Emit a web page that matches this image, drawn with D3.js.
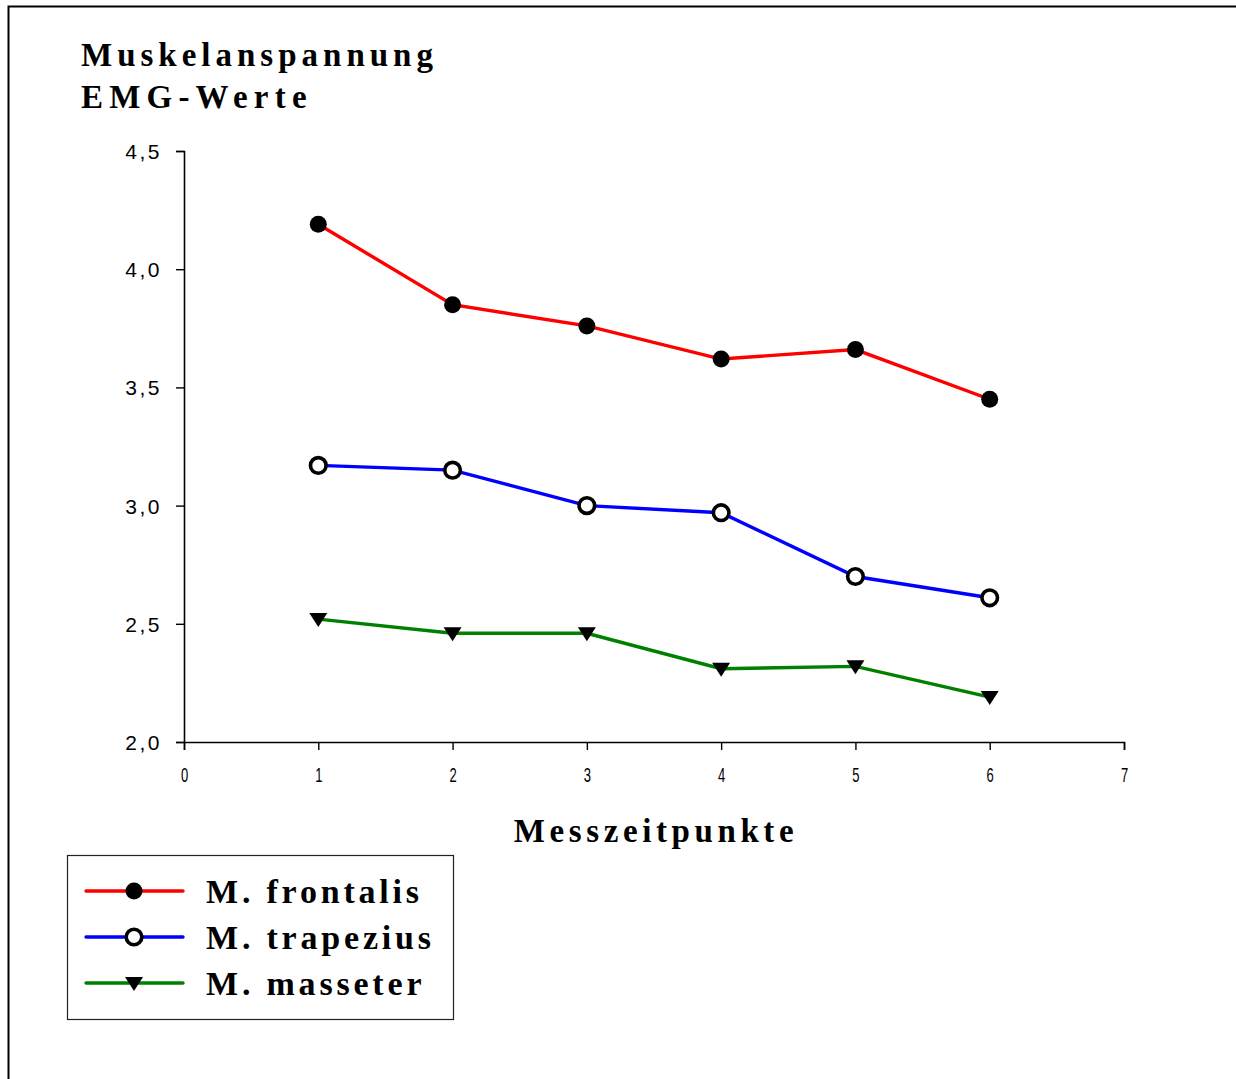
<!DOCTYPE html>
<html>
<head>
<meta charset="utf-8">
<script src="https://cdn.jsdelivr.net/npm/d3@7"></script>
<style>
  html, body { margin: 0; padding: 0; background: #fff; }
  svg { display: block; }
</style>
</head>
<body>
<svg id="chart" width="1236" height="1079"></svg>
<script>
// Measurement time points (x) and mean EMG values per muscle
const timePoints = [1, 2, 3, 4, 5, 6];
const frontalis = [4.19, 3.85, 3.76, 3.62, 3.66, 3.45];
const trapezius = [3.17, 3.15, 3.00, 2.97, 2.70, 2.61];
const masseter  = [2.52, 2.46, 2.46, 2.31, 2.32, 2.19];

const xTicks = [0, 1, 2, 3, 4, 5, 6, 7];
const yTicks = [2.0, 2.5, 3.0, 3.5, 4.0, 4.5];
const seriesNames = ["M. frontalis", "M. trapezius", "M. masseter"];

const series = [
  { name: seriesNames[0], values: frontalis, color: "#ff0000", marker: "filled" },
  { name: seriesNames[1], values: trapezius, color: "#0000ff", marker: "open" },
  { name: seriesNames[2], values: masseter,  color: "#008000", marker: "triangle" }
];

const svg = d3.select("#chart");
const serif = "'Liberation Serif', 'Times New Roman', serif";
const sans = "'Liberation Sans', Arial, sans-serif";

// outer frame (only top and left edges fall inside the page)
svg.append("path")
  .attr("d", "M8.5,1079 V6.5 H1236")
  .attr("fill", "none").attr("stroke", "#000").attr("stroke-width", 2);

const x = d3.scaleLinear().domain([0, 7]).range([184, 1124]);
const y = d3.scaleLinear().domain([2.0, 4.5]).range([742, 151]);

// y axis
const yAxis = svg.append("g")
  .attr("transform", `translate(${x(0)},0)`)
  .call(d3.axisLeft(y).tickValues(yTicks).tickSize(8).tickPadding(14)
    .tickFormat(d => d3.format(".1f")(d).replace(".", ",")));
yAxis.select(".domain").attr("stroke-width", 1.6);
yAxis.selectAll(".tick line").attr("stroke-width", 1.4);
yAxis.selectAll("text")
  .attr("font-family", sans).attr("font-size", 21).attr("letter-spacing", 2.5)
  .attr("x", -22).attr("dy", "0.36em").attr("fill", "#000");

// x axis
const xAxis = svg.append("g")
  .attr("transform", `translate(0,${y(2.0)})`)
  .call(d3.axisBottom(x).tickValues(xTicks).tickSize(8).tickPadding(0)
    .tickFormat(d3.format("d")));
xAxis.select(".domain").attr("stroke-width", 1.6);
xAxis.selectAll(".tick line").attr("stroke-width", 1.4);
xAxis.selectAll("text")
  .attr("font-family", sans).attr("font-size", 20).attr("fill", "#000")
  .attr("dy", null).attr("y", 0)
  .attr("transform", "translate(0,40) scale(0.65,1)");

// lines and markers
const line = d3.line().x((d, i) => x(timePoints[i])).y(d => y(d));

function drawMarker(g, type, cx, cy) {
  if (type === "filled") {
    g.append("circle").attr("cx", cx).attr("cy", cy).attr("r", 8.5).attr("fill", "#000");
  } else if (type === "open") {
    g.append("circle").attr("cx", cx).attr("cy", cy).attr("r", 7.8)
      .attr("fill", "#fff").attr("stroke", "#000").attr("stroke-width", 3.6);
  } else {
    const s = 9;
    g.append("path")
      .attr("d", `M${cx - s},${cy - 6} L${cx + s},${cy - 6} L${cx},${cy + 8} Z`)
      .attr("fill", "#000");
  }
}

series.forEach(s => {
  svg.append("path")
    .datum(s.values)
    .attr("d", line)
    .attr("fill", "none")
    .attr("stroke", s.color)
    .attr("stroke-width", 3.4);
  const g = svg.append("g");
  s.values.forEach((v, i) => drawMarker(g, s.marker, x(timePoints[i]), y(v)));
});

// titles
const title = svg.append("text")
  .attr("font-family", serif).attr("font-weight", "bold")
  .attr("font-size", 33).attr("fill", "#000");
title.append("tspan").attr("x", 81).attr("y", 66).attr("letter-spacing", 5).text("Muskelanspannung");
title.append("tspan").attr("x", 81).attr("y", 108).attr("letter-spacing", 6.2).text("EMG-Werte");

svg.append("text")
  .attr("x", 656).attr("y", 842)
  .attr("text-anchor", "middle")
  .attr("font-family", serif).attr("font-weight", "bold")
  .attr("font-size", 33).attr("letter-spacing", 4.6).attr("fill", "#000")
  .text("Messzeitpunkte");

// legend
const legend = svg.append("g");
legend.append("rect")
  .attr("x", 67.5).attr("y", 855.5).attr("width", 386).attr("height", 164)
  .attr("fill", "#fff").attr("stroke", "#222").attr("stroke-width", 1.2);

const legendY = d3.scalePoint().domain(seriesNames).range([891, 983]);
series.forEach(s => {
  const ly = legendY(s.name);
  legend.append("line")
    .attr("x1", 86).attr("x2", 183).attr("y1", ly).attr("y2", ly)
    .attr("stroke", s.color).attr("stroke-width", 3.4).attr("stroke-linecap", "round");
  drawMarker(legend, s.marker, 134, ly);
  legend.append("text")
    .attr("x", 206).attr("y", ly + 12)
    .attr("font-family", serif).attr("font-weight", "bold")
    .attr("font-size", 34).attr("letter-spacing", 3.8).attr("fill", "#000")
    .text(s.name);
});
</script>
</body>
</html>
